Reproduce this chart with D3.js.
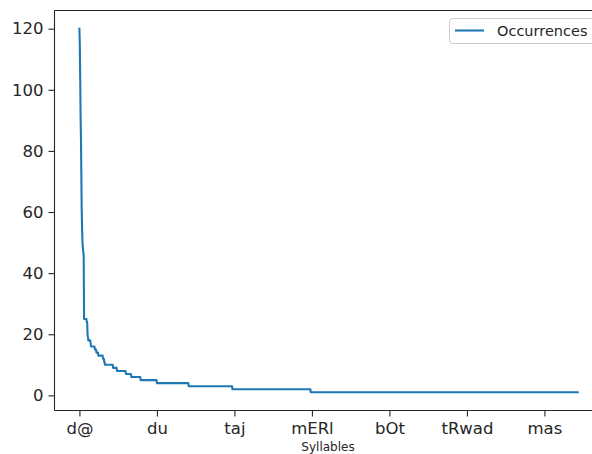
<!DOCTYPE html>
<html>
<head>
<meta charset="utf-8">
<script src="https://cdn.jsdelivr.net/npm/d3@7"></script>
<style>
  html, body { margin: 0; padding: 0; background: #ffffff; }
  svg { display: block; font-family: "DejaVu Sans", sans-serif; }
</style>
</head>
<body>
<svg id="chart" width="592" height="454"></svg>
<script>
// ---- data ----
// occurrence counts of syllables sorted descending, run-length encoded
const runValues  = [120, 115, 104, 92, 84, 72, 60, 54, 50, 48, 47, 46,
                    25, 24, 20, 19, 18, 17, 16, 15, 14, 13, 12, 11, 10,
                    9, 8, 7, 6, 5, 4, 3, 2, 1];
const runLengths = [1, 1, 1, 1, 1, 1, 1, 1, 1, 1, 1, 1,
                    7, 2, 1, 1, 6, 1, 10, 4, 5, 12, 3, 2, 21,
                    10, 23, 14, 24, 42, 82, 113, 202, 690];
const tickLabels = ["d@", "du", "taj", "mERl", "bOt", "tRwad", "mas"];
const tickStep = 200;
const seriesName = "Occurrences";
const xLabel = "Syllables";
const yTicks = [0, 20, 40, 60, 80, 100, 120];

(function () {
// expand runs into one count per syllable
const occurrences = [];
runValues.forEach((v, i) => { for (let k = 0; k < runLengths[i]; k++) occurrences.push(v); });
const n = occurrences.length;

// ---- layout ----
const svg = d3.select("#chart");
const mLeft = 54.5, mTop = 10.5, mBottom = 410.5;
const pxPerIdx = 0.3875;
const xPad = (n - 1) * 0.05;
const xDomain = [-xPad, (n - 1) + xPad];
const mRight = mLeft + (xDomain[1] - xDomain[0]) * pxPerIdx;

const yMin = d3.min(occurrences), yMax = d3.max(occurrences);
const yPad = (yMax - yMin) * 0.05;

const x = d3.scaleLinear().domain(xDomain).range([mLeft, mRight]);
const y = d3.scaleLinear().domain([yMin - yPad, yMax + yPad]).range([mBottom, mTop]);

const textColor = "#262626";
const spineColor = "#262626";
const fs = 16.5;

// line
const line = d3.line().x((d, i) => x(i)).y(d => y(d));
svg.append("path")
  .datum(occurrences)
  .attr("fill", "none")
  .attr("stroke", "#1f77b4")
  .attr("stroke-width", 2.08)
  .attr("stroke-linejoin", "round")
  .attr("stroke-linecap", "square")
  .attr("d", line);

// y axis
const yAxis = d3.axisLeft(y).tickValues(yTicks).tickSize(6).tickPadding(5);
const gy = svg.append("g").attr("transform", `translate(${mLeft},0)`).call(yAxis);
gy.select(".domain").remove();
gy.selectAll(".tick line").attr("stroke", spineColor).attr("stroke-width", 1.1);
gy.selectAll(".tick text").attr("fill", textColor).style("font-size", fs + "px")
  .style("font-family", "DejaVu Sans");

// x axis
const tickIdx = tickLabels.map((_, i) => i * tickStep);
const xAxis = d3.axisBottom(x).tickValues(tickIdx).tickFormat((d, i) => tickLabels[i])
  .tickSize(6).tickPadding(6);
const gx = svg.append("g").attr("transform", `translate(0,${mBottom})`).call(xAxis);
gx.select(".domain").remove();
gx.selectAll(".tick line").attr("stroke", spineColor).attr("stroke-width", 1.1);
gx.selectAll(".tick text").attr("fill", textColor).style("font-size", fs + "px")
  .style("font-family", "DejaVu Sans");

// spines
svg.append("line").attr("x1", mLeft).attr("x2", mLeft).attr("y1", mTop).attr("y2", mBottom)
  .attr("stroke", spineColor).attr("stroke-width", 1.1);
svg.append("line").attr("x1", mLeft).attr("x2", mRight).attr("y1", mBottom).attr("y2", mBottom)
  .attr("stroke", spineColor).attr("stroke-width", 1.1);
svg.append("line").attr("x1", mLeft).attr("x2", mRight).attr("y1", mTop).attr("y2", mTop)
  .attr("stroke", spineColor).attr("stroke-width", 1.1);

// x label
svg.append("text").attr("x", 328).attr("y", 451)
  .attr("text-anchor", "middle").attr("fill", textColor)
  .style("font-size", "12px").text(xLabel);

// legend
const lg = svg.append("g");
lg.append("rect").attr("x", 449.5).attr("y", 18.5).attr("width", 160).attr("height", 25)
  .attr("rx", 3).attr("fill", "#ffffff").attr("fill-opacity", 0.8)
  .attr("stroke", "#cccccc").attr("stroke-width", 1);
lg.append("line").attr("x1", 455).attr("x2", 484).attr("y1", 30.5).attr("y2", 30.5)
  .attr("stroke", "#1f77b4").attr("stroke-width", 2.08);
lg.append("text").attr("x", 497).attr("y", 35.5).attr("fill", textColor)
  .style("font-size", "14.5px").text(seriesName);
})();
</script>
</body>
</html>
